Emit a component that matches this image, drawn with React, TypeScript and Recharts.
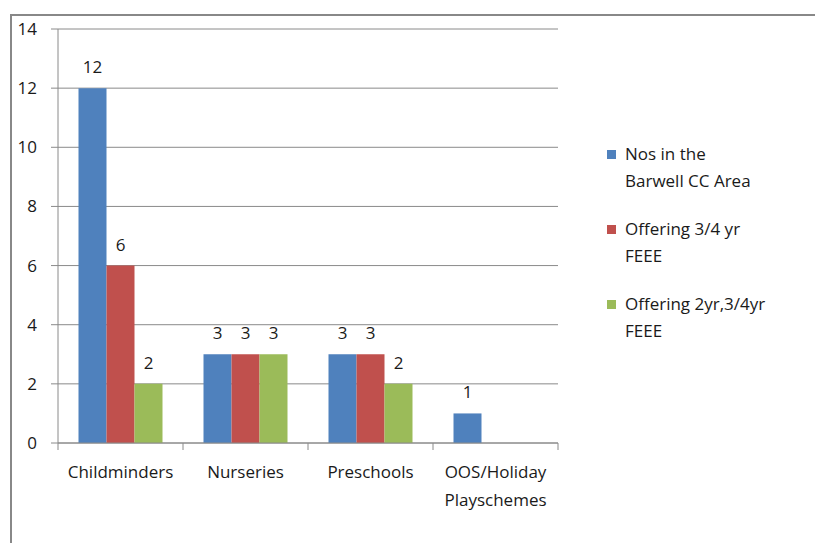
import { Bar, BarChart, CartesianGrid, LabelList, XAxis, YAxis } from "recharts";

const categories = ["Childminders", "Nurseries", "Preschools", "OOS/Holiday Playschemes"];
const nosInArea = [12, 3, 3, 1];
const offering34 = [6, 3, 3, null];
const offering2yr34 = [2, 3, 2, null];
const yTicks = [0, 2, 4, 6, 8, 10, 12, 14];

const seriesNames = ["Nos in the Barwell CC Area", "Offering 3/4 yr FEEE", "Offering 2yr,3/4yr FEEE"];
const legendLines = [
  ["Nos in the", "Barwell CC Area"],
  ["Offering 3/4 yr", "FEEE"],
  ["Offering 2yr,3/4yr", "FEEE"]
];
const COLORS = ["#4F81BD", "#C0504D", "#9BBB59"];

const data = categories.map((name, i) => ({
  name,
  a: nosInArea[i],
  b: offering34[i],
  c: offering2yr34[i]
}));

const FONT = "'Open Sans', Lato, sans-serif";
const TEXT = "#1a1a1a";
const GRID = "#8a8a8a";

// label plus the little tick marks between categories (Excel style)
const CategoryTick = (props: any) => {
  const { x, y, payload, index } = props;
  const label: string = payload.value;
  const half = payload.offset ?? 0;
  const lines = label.length > 14 ? label.split(" ") : [label];
  const last = index === categories.length - 1;
  return (
    <g>
      {half > 0 && <line x1={x - half} x2={x - half} y1={y} y2={y + 7} stroke={GRID} />}
      {half > 0 && last && <line x1={x + half} x2={x + half} y1={y} y2={y + 7} stroke={GRID} />}
      <text x={x} y={y} textAnchor="middle" fill={TEXT} fontSize={17} fontFamily={FONT}>
        {lines.map((l, i) => (
          <tspan key={i} x={x} dy={i === 0 ? 35 : 28}>
            {l}
          </tspan>
        ))}
      </text>
    </g>
  );
};

const ChartLegend = () => (
  <div
    style={{
      position: "absolute",
      left: 607,
      top: 140,
      fontFamily: FONT,
      fontSize: 17,
      color: TEXT
    }}
  >
    {legendLines.map((lines, i) => (
      <div key={i} style={{ display: "flex", marginBottom: 21, lineHeight: "27px" }}>
        <div
          style={{
            width: 9,
            height: 9,
            background: COLORS[i],
            marginTop: 10,
            marginRight: 9
          }}
        />
        <div>
          {lines.map((l, j) => (
            <div key={j}>{l}</div>
          ))}
        </div>
      </div>
    ))}
  </div>
);

export default function App() {
  return (
    <div
      style={{
        position: "absolute",
        left: 0,
        top: 0,
        width: 815,
        height: 543,
        background: "#fff",
        overflow: "hidden"
      }}
    >
      <div
        style={{
          position: "absolute",
          left: 10,
          top: 14,
          width: 820,
          height: 540,
          borderLeft: "2px solid #888",
          borderTop: "2px solid #888"
        }}
      />
      <BarChart
        width={815}
        height={543}
        data={data}
        margin={{ top: 29, right: 257, left: 0, bottom: 0 }}
        barCategoryGap="16.4%"
        barGap={0}
      >
        <CartesianGrid horizontal vertical={false} stroke={GRID} />
        <XAxis
          dataKey="name"
          height={100}
          axisLine={{ stroke: GRID }}
          tickLine={false}
          tickSize={0}
          tickMargin={0}
          tick={<CategoryTick />}
          interval={0}
        />
        <YAxis
          width={58}
          domain={[0, 14]}
          ticks={yTicks}
          axisLine={{ stroke: GRID }}
          tickLine={{ stroke: GRID }}
          tickSize={7}
          tickMargin={14}
          tick={{ fill: TEXT, fontSize: 17, fontFamily: FONT }}
        />
        {["a", "b", "c"].map((key, i) => (
          <Bar key={key} dataKey={key} name={seriesNames[i]} fill={COLORS[i]} isAnimationActive={false}>
            <LabelList
              dataKey={key}
              position="top"
              offset={15}
              fill={TEXT}
              fontSize={17}
              fontFamily={FONT}
            />
          </Bar>
        ))}
      </BarChart>
      <ChartLegend />
    </div>
  );
}
